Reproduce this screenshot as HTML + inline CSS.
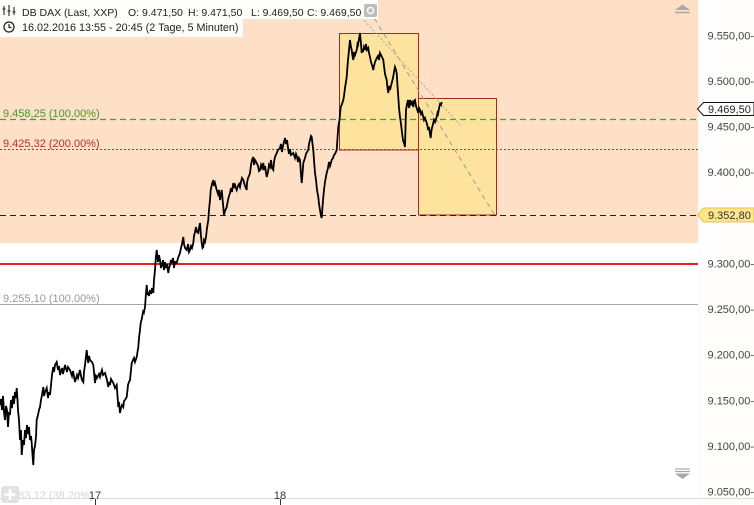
<!DOCTYPE html>
<html><head><meta charset="utf-8"><style>
html,body{margin:0;padding:0;background:#fff;}
svg{display:block;font-family:"Liberation Sans",Arial,sans-serif;}
</style></head><body>
<svg width="754" height="505" viewBox="0 0 754 505" xmlns="http://www.w3.org/2000/svg">
<rect x="0" y="0" width="754" height="505" fill="#fff"/>
<rect x="698" y="0" width="56" height="505" fill="#fffdfb"/>
<rect x="0" y="0" width="698" height="243" fill="#fde0c6"/>
<!-- rectangles -->
<rect x="339.5" y="33.5" width="79" height="116.5" fill="#fde39e" stroke="#a3291c" stroke-width="1"/>
<rect x="418.5" y="98.5" width="78" height="116.5" fill="#fde39e" stroke="#a3291c" stroke-width="1"/>
<!-- level lines -->
<line x1="0" y1="119.5" x2="698" y2="119.5" stroke="#3aa82a" stroke-width="1.2" stroke-dasharray="6,4"/>
<line x1="0" y1="149.5" x2="698" y2="149.5" stroke="#b83030" stroke-width="1" stroke-dasharray="2,2"/>
<line x1="0" y1="215.5" x2="698" y2="215.5" stroke="#222" stroke-width="1" stroke-dasharray="6,4"/>
<line x1="0" y1="264" x2="698" y2="264" stroke="#e42222" stroke-width="2"/>
<line x1="0" y1="304.5" x2="698" y2="304.5" stroke="#a8a8a8" stroke-width="1"/>
<!-- diagonals -->
<line x1="365" y1="3" x2="494" y2="214" stroke="#9a9a9a" stroke-width="1" stroke-dasharray="5,4"/>
<line x1="348" y1="3" x2="462" y2="127" stroke="#b0a8a0" stroke-width="1" stroke-dasharray="2,2"/>
<!-- level labels -->
<text x="3" y="117" font-size="11" fill="#3f9a2c">9.458,25 (100.00%)</text>
<text x="3" y="147" font-size="11" fill="#b83030">9.425,32 (200.00%)</text>
<text x="3" y="302" font-size="11" fill="#999">9.255,10 (100.00%)</text>
<!-- price series -->
<polyline fill="none" stroke="#000" stroke-width="1.8" stroke-linejoin="miter" points="0,405 1,399 2,410 3,396 4,412 5,420 6,406 7,410 8,427 9,412 10,415 11,400 12,408 13,396 14,404 15,392 16,398 16.7,388 17.5,400 18,410 19,420 20,440 21,430 21.7,455 23,440 24,445 25,430 26,438 27,425 28,434 29,427 30,440 31,436 31.7,443 32.5,455 33.3,465 34,450 35,446 36,437 36.7,420 38,415 39,410 40,407 41,400 42,395 43.3,387 44,396 45,392 46.7,388 48,398 49,392 50,395 51,385 52,375 53.3,367 54,372 55,365 56.7,362 58,370 59,366 60,375 62,368 63,374 65,365 67,372 68,367 70,370 72,376 73,371 75,382 77,375 78,378 80,370 81,376 82,380 83.3,382 84,372 85,365 86.7,350 87.5,358 88.3,363 89,356 90,360 92,362 93.3,365 94,372 95,383 96,376 97,378 99,374 100,377 101,373 102,370 103,375 105,373 107,380 108.3,387 109,382 110,385 111,379 113.3,383 115,388 116.7,385 117.5,396 118.3,407 119,402 120,413 121,408 122,405 123.3,407 124,401 125,400 126.7,397 127.5,390 128,385 129,382 130,380 131,370 131.7,363 133,360 134,358 135,362 136.7,357 137.5,352 138.3,347 139,338 140,330 140.7,323 142,318 143.3,310 144,312 145,307 145.8,296 146.7,285 147.5,295 148,292 149,296 150,290 151,294 152,288 153.3,293 154,280 155,270 155.8,258 156.7,250 157.5,258 158,262 159,255 160,260 161,268 162,265 163,260 164,270 165,262 166,268 167,264 168.3,273 169,268 170,265 171,260 171.7,263 173,258 174,268 175,262 176.7,263 178,258 180,253 181,248 182,244 183.3,237 184,244 185,248 186.7,250 188,244 189,252 190,250 191,246 192,248 193.3,243 194,236 195,232 196,227 197,232 198.3,233 199,228 200,223 201,236 201.7,243 202.5,248 203.3,247 204,240 205,242 206,237 207,228 208.3,220 209,210 210,200 210.7,190 212,184 213.3,180 214,186 215,183 216.7,190 218,194 219,190 220,200 221,194 221.7,190 223,204 224,215 225,211 226.7,207 228,200 229,196 230,193 231,188 232,192 233.3,183 234,188 235,185 236.7,190 238,186 239,184 240,187 241,182 242,178 243.3,180 245,186 246.7,190 247,183 248,178 249,176 250,173 251,165 252,160 253.3,157 254,165 255,160 256.7,163 258,166 259,171 260,170 261,165 262,168 263.3,163 264,170 265,166 266.7,177 268,172 269,165 270,167 271,160 272,168 273.3,170 274,162 275,157 276.7,153 278,150 280,148 281,144 282,152 283,146 285,138 286,144 287,140 288.3,150 289,154 290,149 291,155 293.3,153 295,158 296,154 297,157 298,162 299,158 300,160 300.8,172 301.7,183 302.5,174 303.3,163 305,158 306,154 307,152 308.3,150 309,144 310,140 311,136 311.7,137 312.5,144 313.3,150 314,160 315,173 316,180 317,190 318.3,197 319,204 320,210 321,216 321.7,218 322.5,207 323.3,197 324,190 325,182 326.7,173 328,168 329,162 330,166 331.7,160 333,158 334,155 335,154 336.7,150 337.5,138 338.3,127 339.5,120 340.7,107 342,104 343.3,100 344,96 345,88 346.7,77 347.5,66 348,60 349,50 350,40 350.8,46 351.7,50 352.5,56 353.3,60 354,52 355,55 356.7,50 357.5,44 358,45 359,39 360,33 361,44 361.7,53 362.5,49 363,52 364,47 365,50 366,44 367,50 368.3,48 369,53 370,57 371,62 372,65 373.3,70 374,66 375,62 376.7,58 378,56 379,60 380,53 381,55 382,57 383.3,60 384,66 385,74 386.7,80 387.5,88 388.3,93 389,86 390,90 391.7,83 393,78 394,72 395,67 396,70 396.7,73 397.5,86 398.3,97 399,108 400,117 401,124 401.7,130 403,140 404,143 405,147 405.5,128 406,110 407,104 408,100 409,108 410,100 411,104 412,102 413.3,107 414,101 415,100 416,106 417,109 418.3,113 419,108 420,110 421,114 422,112 423.3,117 424,120 425,118 426.7,123 427.5,126 428,130 429,127 430,134 430.7,138 431.5,130 432,128 433.3,123 434,120 435,122 436.7,117 437.5,113 438,114 439.3,107 440,104 441,105 441.7,102"/>
<!-- header -->
<rect x="0" y="0" width="378" height="19" fill="#fff" opacity="0.92"/>
<rect x="0" y="19" width="243" height="18" fill="#fff" opacity="0.92"/>
<g stroke="#333" stroke-width="1.2">
<line x1="4" y1="6" x2="4" y2="15"/><line x1="2.5" y1="9" x2="5.5" y2="9"/>
<line x1="9" y1="5" x2="9" y2="16"/><line x1="7.5" y1="11" x2="10.5" y2="11"/>
<line x1="14" y1="7" x2="14" y2="15"/><line x1="12.5" y1="12" x2="15.5" y2="12"/>
</g>
<circle cx="9" cy="27" r="5" fill="none" stroke="#222" stroke-width="1.3"/>
<path d="M9 24 V27.5 H11.5" fill="none" stroke="#222" stroke-width="1.2"/>
<g font-size="10.5" fill="#222">
<text x="22" y="16">DB DAX (Last, XXP)</text>
<text x="128" y="16">O: 9.471,50</text>
<text x="188" y="16">H: 9.471,50</text>
<text x="251" y="16">L: 9.469,50</text>
<text x="307" y="16">C: 9.469,50</text>
<text x="22" y="31" font-size="10.8">16.02.2016 13:55 - 20:45 (2 Tage, 5 Minuten)</text>
</g>
<rect x="364" y="4" width="13" height="13" rx="2" fill="#bdbdbd"/>
<circle cx="370.5" cy="10.5" r="3" fill="none" stroke="#fff" stroke-width="1.5"/>
<!-- right axis labels -->
<g font-size="11" fill="#444" text-anchor="end">
<text x="754" y="39.5">9.550,00-</text>
<text x="754" y="85">9.500,00-</text>
<text x="754" y="130.5">9.450,00-</text>
<text x="754" y="176">9.400,00-</text>
<text x="754" y="267.5">9.300,00-</text>
<text x="754" y="313">9.250,00-</text>
<text x="754" y="358.5">9.200,00-</text>
<text x="754" y="404.5">9.150,00-</text>
<text x="754" y="450">9.100,00-</text>
<text x="754" y="495.5">9.050,00-</text>
</g>
<!-- price tags -->
<path d="M697.5 109 L703.5 102.5 H754 V115.5 H703.5 Z" fill="#fff" stroke="#111" stroke-width="1"/>
<text x="708" y="113" font-size="11" fill="#222">9.469,50</text>
<path d="M697.5 215 L703.5 208 H754 V222 H703.5 Z" fill="#fde68a" stroke="#e2c45a" stroke-width="1"/>
<text x="708" y="219" font-size="11" fill="#333">9.352,80</text>
<!-- scroll arrows -->
<path d="M675 10 L682.5 4.5 L690 10 Z" fill="#a8a8a8"/>
<line x1="675" y1="12.5" x2="690" y2="12.5" stroke="#a8a8a8" stroke-width="1.5"/>
<line x1="675" y1="469" x2="690" y2="469" stroke="#a8a8a8" stroke-width="1.2"/>
<line x1="675" y1="471.5" x2="690" y2="471.5" stroke="#a8a8a8" stroke-width="1.2"/>
<path d="M675 473.5 L690 473.5 L682.5 479 Z" fill="#a8a8a8"/>
<!-- bottom axis -->
<line x1="0" y1="498.5" x2="754" y2="498.5" stroke="#dcdcdc" stroke-width="1"/>
<text x="3" y="499" font-size="11" fill="#d6d6d6">9.183,12 (38.20%)</text>
<rect x="1" y="486" width="18" height="17" rx="3" fill="#e2e2e2"/>
<path d="M10 489 V500 M4.5 494.5 H15.5" stroke="#fff" stroke-width="2.5"/>
<text x="95" y="499" font-size="11" fill="#333" text-anchor="middle">17</text>
<line x1="95.5" y1="499" x2="95.5" y2="505" stroke="#333" stroke-width="1"/>
<text x="280" y="499" font-size="11" fill="#333" text-anchor="middle">18</text>
<line x1="280.5" y1="499" x2="280.5" y2="505" stroke="#333" stroke-width="1"/>
</svg>
</body></html>
